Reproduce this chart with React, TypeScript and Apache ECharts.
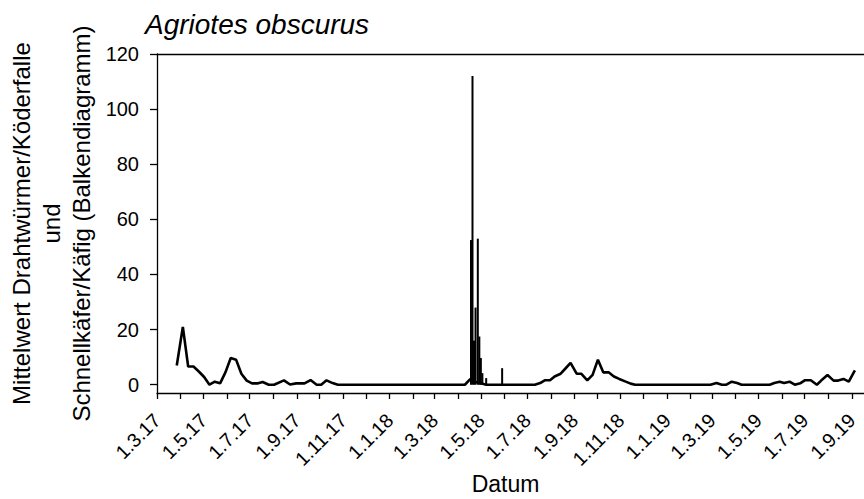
import React, { useEffect, useRef } from "react";
import * as echarts from "echarts";

const startDate = "2017-03-01";
const endDate = "2019-09-17";

const wirewormDates = [
  "2017-03-27", "2017-04-04", "2017-04-11", "2017-04-18", "2017-04-25", "2017-05-02",
  "2017-05-09", "2017-05-16", "2017-05-23", "2017-05-30", "2017-06-06", "2017-06-13",
  "2017-06-20", "2017-06-27", "2017-07-04", "2017-07-12", "2017-07-18", "2017-07-26",
  "2017-08-02", "2017-08-15", "2017-08-23", "2017-08-31", "2017-09-11", "2017-09-19",
  "2017-09-27", "2017-10-03", "2017-10-10", "2017-10-18", "2017-10-25", "2017-11-15",
  "2017-12-13", "2018-01-17", "2018-02-14", "2018-03-14", "2018-04-10", "2018-04-17",
  "2018-04-24", "2018-05-01", "2018-05-08", "2018-06-05", "2018-07-11", "2018-07-18",
  "2018-07-24", "2018-07-31", "2018-08-06", "2018-08-14", "2018-08-20", "2018-08-27",
  "2018-09-04", "2018-09-10", "2018-09-18", "2018-09-25", "2018-10-02", "2018-10-09",
  "2018-10-16", "2018-10-23", "2018-10-30", "2018-11-06", "2018-11-14", "2018-11-20",
  "2018-12-18", "2019-01-22", "2019-02-27", "2019-03-07", "2019-03-14", "2019-03-20",
  "2019-03-27", "2019-04-03", "2019-04-09", "2019-05-16", "2019-05-22", "2019-05-29",
  "2019-06-04", "2019-06-11", "2019-06-18", "2019-06-25", "2019-07-01", "2019-07-09",
  "2019-07-17", "2019-07-23", "2019-07-31", "2019-08-08", "2019-08-14", "2019-08-21",
  "2019-08-28", "2019-09-05",
];
const wirewormValues = [
  7, 21, 6.6, 6.6, 4.8, 2.8,
  0, 1.1, 0.5, 4.5, 9.7, 9.1,
  4, 1.5, 0.5, 0.5, 1.0, 0,
  0, 1.6, 0.1, 0.5, 0.5, 1.7,
  0, 0, 1.6, 0.6, 0, 0,
  0, 0, 0, 0, 0, 2,
  1, 0.5, 0, 0, 0, 0.6,
  1.6, 1.6, 3.0, 4, 5.8, 7.9,
  4, 4, 1.6, 3.6, 9.1, 4.5,
  4.5, 3.0, 2.1, 1.3, 0.4, 0,
  0, 0, 0, 0.6, 0, 0,
  1.1, 0.6, 0, 0, 0.6, 1.1,
  0.6, 1.1, 0, 0.5, 1.6, 1.6,
  0, 1.6, 3.5, 1.5, 1.5, 2.1,
  1.1, 5.2,
];

const beetleDates = [
  "2018-04-18", "2018-04-20", "2018-04-22", "2018-04-24", "2018-04-27",
  "2018-04-29", "2018-05-01", "2018-05-03", "2018-05-08", "2018-05-29",
];
const beetleValues = [52.5, 112, 16, 28, 53, 17.5, 9.7, 4.2, 2.4, 6];

const yTicks = [0, 20, 40, 60, 80, 100, 120];

const title = "Agriotes obscurus";
const xTitle = "Datum";
const yTitle = "Mittelwert Drahtwürmer/Köderfalle\nund\nSchnellkäfer/Käfig (Balkendiagramm)";

const FONT = "'Liberation Sans', Arial, sans-serif";

function buildDays(a: string, b: string): string[] {
  const out: string[] = [];
  const d = new Date(a + "T00:00:00Z");
  const end = new Date(b + "T00:00:00Z");
  while (d.getTime() <= end.getTime()) {
    out.push(d.toISOString().slice(0, 10));
    d.setUTCDate(d.getUTCDate() + 1);
  }
  return out;
}

function fmtDate(s: string): string {
  const [y, m, d] = s.split("-");
  return `${+d}.${+m}.${y.slice(2)}`;
}

export default function App() {
  const ref = useRef<HTMLDivElement>(null);
  useEffect(() => {
    if (!ref.current) return;
    const chart = echarts.init(ref.current, undefined, { renderer: "svg" });
    const days = buildDays(startDate, endDate);
    const lineData = wirewormDates.map((d, i) => [d, wirewormValues[i]]);
    const barData = beetleDates.map((d, i) => [d, beetleValues[i]]);
    chart.setOption({
      animation: false,
      backgroundColor: "#ffffff",
      textStyle: { fontFamily: FONT, color: "#000" },
      graphic: [
        {
          type: "text",
          left: 145,
          top: 10,
          style: {
            text: title,
            font: `italic 28px ${FONT}`,
            fill: "#000",
          },
        },
      ],
      grid: {
        left: 157,
        top: 54,
        right: 0,
        bottom: 106,
        containLabel: false,
        outerBoundsMode: "none",
      },
      xAxis: [
        {
          type: "category",
          data: days,
          boundaryGap: false,
          position: "bottom",
          name: xTitle,
          nameLocation: "middle",
          nameGap: 79,
          nameMoveOverlap: false,
          nameTextStyle: { fontSize: 23, color: "#000", fontFamily: FONT, padding: [0, 10, 0, 0] },
          axisLine: { show: true, onZero: false, lineStyle: { color: "#000", width: 1.3 } },
          axisTick: {
            show: true,
            inside: false,
            length: 6,
            interval: (_i: number, v: string) => v.endsWith("-01"),
            lineStyle: { color: "#000", width: 1.3 },
          },
          axisLabel: {
            show: true,
            rotate: 45,
            margin: 24,
            fontSize: 19.5,
            padding: [4, 0, 0, 0],
            color: "#000",
            fontFamily: FONT,
            interval: (_i: number, v: string) => v.endsWith("-01") && (+v.slice(5, 7)) % 2 === 1,
            formatter: (v: string) => fmtDate(v),
          },
          splitLine: { show: false },
        },
        {
          type: "value",
          position: "top",
          min: 0,
          max: 1,
          axisLine: { show: true, onZero: false, lineStyle: { color: "#000", width: 1.3 } },
          axisTick: { show: false },
          axisLabel: { show: false },
          splitLine: { show: false },
        },
      ],
      yAxis: {
        type: "value",
        min: -3,
        max: 120,
        name: yTitle,
        nameLocation: "middle",
        nameRotate: 90,
        nameGap: 61,
        nameMoveOverlap: false,
        nameTextStyle: { fontSize: 24, lineHeight: 30, color: "#000", fontFamily: FONT },
        axisLine: { show: true, lineStyle: { color: "#000", width: 1.3 } },
        axisTick: {
          show: true,
          length: 7,
          customValues: yTicks,
          lineStyle: { color: "#000", width: 1.3 },
        },
        axisLabel: {
          show: true,
          customValues: yTicks,
          margin: 18,
          fontSize: 20,
          color: "#000",
          fontFamily: FONT,
        },
        splitLine: { show: false },
      },
      series: [
        {
          type: "bar",
          xAxisIndex: 0,
          data: barData,
          barWidth: 2,
          itemStyle: { color: "#000" },
        },
        {
          type: "line",
          xAxisIndex: 0,
          data: lineData,
          showSymbol: false,
          symbol: "none",
          lineStyle: { color: "#000", width: 2.6 },
        },
      ],
    });
    return () => chart.dispose();
  }, []);
  return (
    <div
      ref={ref}
      style={{ position: "absolute", left: 0, top: 0, width: 864, height: 499, background: "#fff" }}
    />
  );
}
